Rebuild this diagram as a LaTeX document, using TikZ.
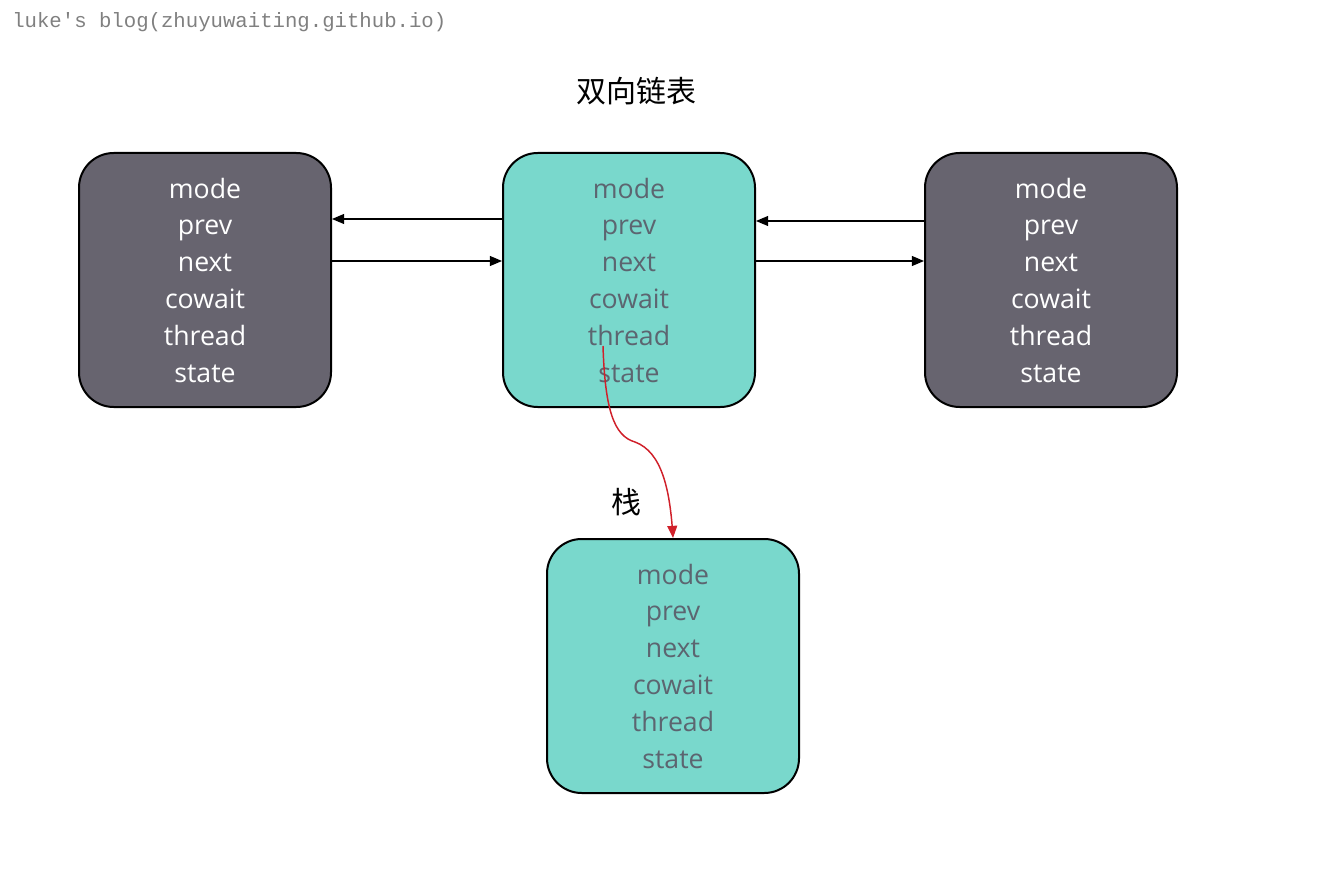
\documentclass[tikz,border=0pt]{standalone}
\usepackage{fontspec}
\setmainfont{Open Sans}
\newfontfamily\cjk{Noto Sans CJK SC}
\newfontfamily\wmfont{Liberation Mono}
\usetikzlibrary{arrows}
\usetikzlibrary{positioning}
\definecolor{darknode}{HTML}{67646F}
\definecolor{tealnode}{HTML}{79D8CC}
\definecolor{tealtext}{HTML}{5C6570}
\definecolor{linkred}{HTML}{D0202A}
\tikzset{node/.style={rectangle,rounded corners=26pt,draw=black,line width=1.5pt,
minimum width=189pt,minimum height=190.5pt,align=center,inner sep=0pt,
font=\fontsize{20}{27.6}\selectfont},
dark/.style={node,fill=darknode,text=white},
teal/.style={node,fill=tealnode,text=tealtext},
title/.style={inner sep=0pt,font=\cjk\fontsize{22.5}{22.5}\selectfont},
link/.style={draw=black,line width=1.1pt},
>={triangle 45}}

\newcommand{\fields}{mode\\prev\\next\\cowait\\thread\\state}

\begin{document}
\begin{tikzpicture}[x=0.75pt,y=-0.75pt]
  \useasboundingbox (0,0) rectangle (1318,870);

  \node (mark) [anchor=west,inner sep=0pt,text=gray,font=\wmfont\fontsize{15.5}{15.5}\selectfont] at (12,22) {luke's blog(zhuyuwaiting.github.io)};
  \node (list) [title] at (636,91) {双向链表};

  \node (left) [dark] at (205,280) {\fields};
  \node (mid) [teal] at (629,280) {\fields};
  \node (right) [dark] at (1051,280) {\fields};

  \node (stack) [teal] at (673,666) {\fields};
  \node (stacktitle) [title] at (626,502) {栈};

  \draw [link,->] (mid.west |- 0,219) -- (left.east |- 0,219);
  \draw [link,->] (left.east |- 0,261) -- (mid.west |- 0,261);
  \draw [link,->] (right.west |- 0,221) -- (mid.east |- 0,221);
  \draw [link,->] (mid.east |- 0,261) -- (right.west |- 0,261);

  \coordinate (thr) at (603,346);
  \draw [linkred,line width=1.1pt,->] (thr) .. controls (605,410) and (614,436) .. (635,442)
    .. controls (662,452) and (670,490) .. (stack.north);
\end{tikzpicture}
\end{document}
